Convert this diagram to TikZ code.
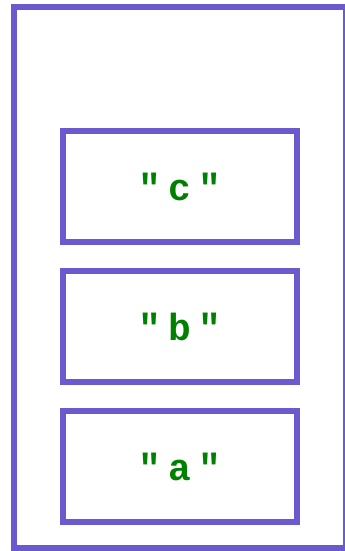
\documentclass[tikz,border=0pt]{standalone}
\usepackage{fontspec}
\newfontfamily\codefont{Liberation Mono}[LetterSpace=20]
\usetikzlibrary{positioning}
\definecolor{frame}{HTML}{6A5ACD}
\definecolor{strgreen}{HTML}{008000}
\tikzset{
  cell/.style={draw=frame, line width=6bp, minimum width=233bp, minimum height=111bp,
    inner sep=0pt, outer sep=0pt, text=strgreen, font=\codefont\bfseries\fontsize{38}{38}\selectfont}
}
\begin{document}
\begin{tikzpicture}[x=1bp, y=-1bp]
        % Rahmen und Bildgröße
        \useasboundingbox (0,0) rectangle (344,551);
        \draw[frame, line width=6bp] (14,7) rectangle (346,548);
        
        % Die drei Einträge
        \node[cell] (cellc) at (180,186.5) {"c"};
        \node[cell, below=29bp of cellc] (cellb) {"b"};
        \node[cell, below=29bp of cellb] (cella) {"a"};
    \end{tikzpicture}
\end{document}
